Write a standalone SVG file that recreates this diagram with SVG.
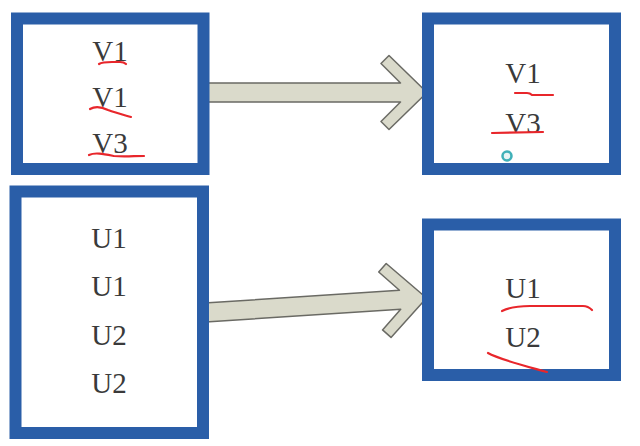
<svg xmlns="http://www.w3.org/2000/svg" width="640" height="446" viewBox="0 0 640 446">
<style>
.box{fill:#ffffff;stroke:#2a5ea8;stroke-width:12}
.lbl{font-family:"Liberation Serif","Times New Roman",serif;font-size:29px;fill:#3a3a3a;text-anchor:middle}
.arrow{fill:#dadacb;stroke:#6a6a64;stroke-width:1.5;stroke-linejoin:round}
.mark{fill:none;stroke:#e8262b;stroke-width:2.2;stroke-linecap:round;stroke-linejoin:round}
</style>
<defs>
<path id="arr" d="M0,-9.5 L195.5,-9.5 L176,-29 L184,-37 L222,0 L184,37 L176,29 L195.5,9.5 L0,9.5 Z"/>
</defs>
<rect width="640" height="446" fill="#ffffff"/>
<g id="connectors">
<use href="#arr" class="arrow" transform="translate(205,92.5)"/>
<use href="#arr" class="arrow" transform="translate(205,312.5) rotate(-3.75)"/>
</g>
<g id="box-v-left">
<rect class="box" x="17" y="18.5" width="186.5" height="150.5"/>
<text class="lbl" x="110" y="61">V1</text>
<text class="lbl" x="110" y="107">V1</text>
<text class="lbl" x="110" y="153">V3</text>
</g>
<g id="box-v-right">
<rect class="box" x="428" y="18.5" width="187" height="150.5"/>
<text class="lbl" x="523" y="83">V1</text>
<text class="lbl" x="523" y="133">V3</text>
</g>
<g id="box-u-left">
<rect class="box" x="15.5" y="191.5" width="187.5" height="241.5"/>
<text class="lbl" x="109" y="248">U1</text>
<text class="lbl" x="109" y="296">U1</text>
<text class="lbl" x="109" y="345">U2</text>
<text class="lbl" x="109" y="393">U2</text>
</g>
<g id="box-u-right">
<rect class="box" x="428" y="224.5" width="187" height="150.5"/>
<text class="lbl" x="523" y="298">U1</text>
<text class="lbl" x="523" y="347">U2</text>
</g>
<g id="annotations">
<path class="mark" d="M99,64 C102,62 106,62 112,62 L120,62 C123,62 125,63 126,64"/>
<path class="mark" d="M90,109 C95,106 100,106 108,110 C116,113 124,115 131,117"/>
<path class="mark" d="M89,155 C95,152 104,154 114,156 C124,157 134,156 144,156"/>
<path class="mark" d="M515,93 L527,93 Q530,93 532,95 L553,95"/>
<path class="mark" d="M492,133 L543,132"/>
<path class="mark" d="M502,311 C510,307 520,306 530,306 L583,306 Q588,306 592,310"/>
<path class="mark" d="M488,353 C498,359 518,364 547,372"/>
<circle cx="507" cy="156" r="4.5" fill="#e8f4f4" stroke="#3fb0b8" stroke-width="2.5"/>
</g>
</svg>
